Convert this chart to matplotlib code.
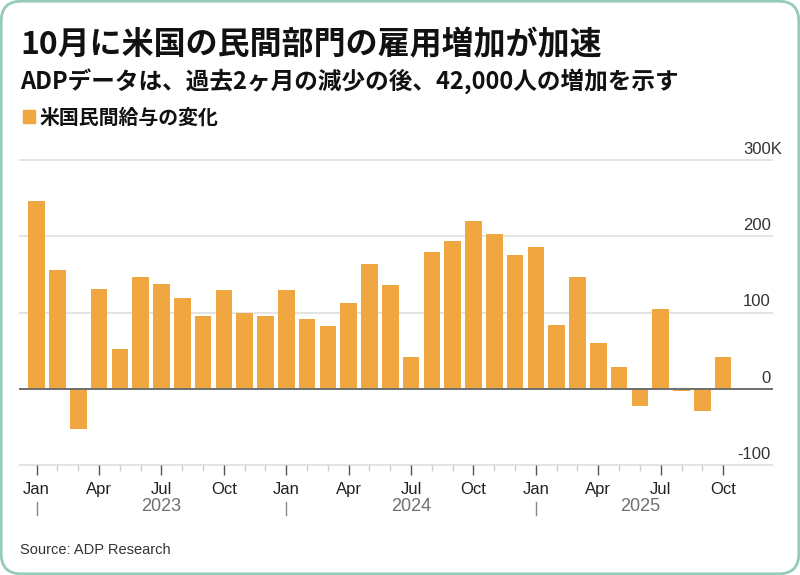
import matplotlib
matplotlib.use("Agg")
import matplotlib.pyplot as plt
import matplotlib.transforms as mtransforms
from matplotlib.patches import FancyBboxPatch, Rectangle
import numpy as np
import pandas as pd

# ---- data ----
title = "10月に米国の民間部門の雇用増加が加速"
subtitle = "ADPデータは、過去2ヶ月の減少の後、42,000人の増加を示す"
legend_label = "米国民間給与の変化"
source = "Source: ADP Research"

months = pd.period_range("2023-01", "2025-10", freq="M")
values = [246, 156, -53, 131, 52, 146, 138, 119, 95, 130, 100, 95,
          129, 91, 82, 113, 164, 136, 42, 179, 194, 220, 203, 176,
          186, 84, 147, 60, 29, -23, 104, -3, -29, 42]
month_abbr = {1: "Jan", 4: "Apr", 7: "Jul", 10: "Oct"}
y_ticks = [-100, 0, 100, 200, 300]
y_tick_labels = ["-100", "0", "100", "200", "300K"]

BAR = "#F0A742"
CJK = ["Noto Sans CJK JP", "DejaVu Sans"]
LAT = ["Liberation Sans", "DejaVu Sans"]

W, H = 800, 575
fig = plt.figure(figsize=(W / 100, H / 100), dpi=100)
fig.patch.set_facecolor("white")

ax = fig.add_axes([20 / W, 1 - 465 / H, 752 / W, 305 / H])
ax.set_facecolor("none")
x = np.arange(len(values))
ax.bar(x, values, width=0.8, color=BAR, zorder=3)
ax.set_xlim(-0.8, 35.35)
ax.set_ylim(y_ticks[0], y_ticks[-1])

for t in y_ticks:
    if t == 0:
        ax.axhline(t, color="#6E6E6E", lw=1.4, zorder=4, clip_on=False)
    else:
        ax.axhline(t, color="#E4E4E4", lw=1.4, zorder=1, clip_on=False)

for s in ax.spines.values():
    s.set_visible(False)
ax.tick_params(axis="y", left=False, labelleft=False)

# y labels above gridlines on the right
ytrans = mtransforms.blended_transform_factory(fig.transFigure, ax.transData)
ytrans = mtransforms.offset_copy(ytrans, fig=fig, x=0, y=6, units="dots")
for t, lab in zip(y_ticks, y_tick_labels):
    xr = 782 / W if lab.endswith("K") else 771 / W
    ax.text(xr, t, lab, transform=ytrans, ha="right", va="baseline",
            fontsize=12, color="#333333", family=LAT)

# x ticks
major_idx = [i for i, m in enumerate(months) if m.month in month_abbr]
ax.set_xticks(major_idx)
ax.set_xticklabels([month_abbr[months[i].month] for i in major_idx])
ax.set_xticks(x, minor=True)
ax.tick_params(axis="x", which="major", length=7, width=1, color="#555555",
               pad=5, labelsize=12, labelcolor="#222222")
ax.tick_params(axis="x", which="minor", length=4, width=1, color="#CCCCCC")
for lbl in ax.get_xticklabels():
    lbl.set_fontfamily(LAT)

# year labels and separators
xt = ax.get_xaxis_transform()
years = sorted(set(m.year for m in months))
for yv in years:
    idx = [i for i, m in enumerate(months) if m.year == yv]
    first, last = idx[0], idx[-1]
    ax.plot([first, first], [-0.121, -0.164], transform=xt, color="#888888",
            lw=1, clip_on=False)
    ax.text((first + last + 1) / 2, -0.137, str(yv), transform=xt, ha="center",
            va="center", fontsize=13, color="#707070", family=LAT)

# titles
fig.text(20 / W, 1 - 45 / H, title, fontsize=23, fontweight="bold", family=CJK,
         va="center", ha="left", color="#111111")
fig.text(20 / W, 1 - 82 / H, subtitle, fontsize=17, fontweight="bold", family=CJK,
         va="center", ha="left", color="#111111")
fig.add_artist(Rectangle((23 / W, 1 - 123 / H), 12 / W, 13 / H,
                         transform=fig.transFigure, color=BAR))
fig.text(40 / W, 1 - 117 / H, legend_label, fontsize=14.3, fontweight="bold",
         family=CJK, va="center", ha="left", color="#111111")

fig.text(20 / W, 1 - 550 / H, source, fontsize=10.5, color="#333333",
         family=LAT, va="center", ha="left")

# rounded border
border = FancyBboxPatch((0.012, 0.012), W / 100 - 0.024, H / 100 - 0.024,
                        boxstyle="round,pad=0,rounding_size=0.2",
                        transform=fig.dpi_scale_trans, fill=False,
                        ec="#96CBB8", lw=2)
fig.add_artist(border)

fig.savefig("out.png", dpi=100, facecolor="white")
